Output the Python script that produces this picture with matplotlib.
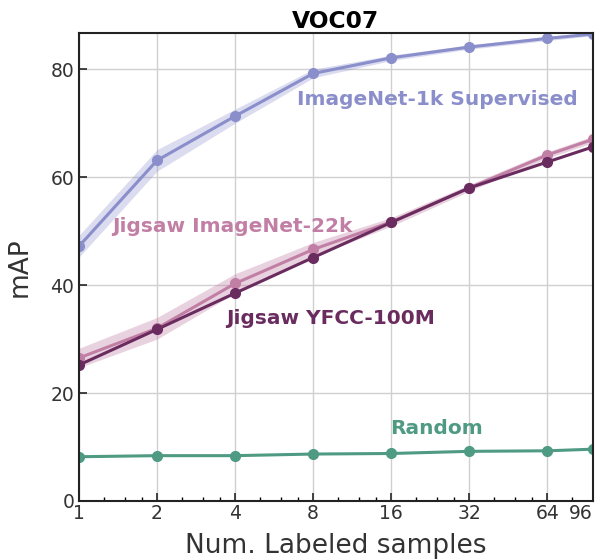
import matplotlib
matplotlib.use("Agg")
import matplotlib.pyplot as plt
from matplotlib.ticker import FixedLocator, NullFormatter, LogLocator

samples = [1, 2, 4, 8, 16, 32, 64, 96]
tick_labels = ["1", "2", "4", "8", "16", "32", "64", "96"]

imnet_sup = [47.2, 63.1, 71.3, 79.2, 82.1, 84.1, 85.7, 86.5]
imnet_sup_err = [2.0, 2.0, 1.3, 0.8, 0.5, 0.4, 0.4, 0.3]
jig_22k = [26.5, 32.0, 40.3, 46.6, 51.7, 58.0, 64.1, 67.0]
jig_22k_err = [1.8, 2.0, 1.8, 1.3, 0.8, 0.6, 0.6, 0.6]
jig_yfcc = [25.2, 31.8, 38.5, 45.1, 51.6, 58.0, 62.8, 65.6]
random_init = [8.2, 8.4, 8.4, 8.7, 8.8, 9.2, 9.3, 9.6]

c_sup = "#8a8ecb"
c_22k = "#c27fa5"
c_yfcc = "#6a2c5f"
c_rand = "#4e9a82"

fig = plt.figure(figsize=(6.02, 5.59), dpi=100)
ax = fig.add_axes([79/602, 1 - 501/559, (593-79)/602, (501-33)/559])

lo = [v - e for v, e in zip(imnet_sup, imnet_sup_err)]
hi = [v + e for v, e in zip(imnet_sup, imnet_sup_err)]
ax.fill_between(samples, lo, hi, color=c_sup, alpha=0.3, lw=0)
lo = [v - e for v, e in zip(jig_22k, jig_22k_err)]
hi = [v + e for v, e in zip(jig_22k, jig_22k_err)]
ax.fill_between(samples, lo, hi, color=c_22k, alpha=0.35, lw=0)

ax.plot(samples, imnet_sup, "-o", color=c_sup, lw=2.2, ms=7)
ax.plot(samples, jig_22k, "-o", color=c_22k, lw=2.2, ms=7)
ax.plot(samples, jig_yfcc, "-o", color=c_yfcc, lw=2.2, ms=7)
ax.plot(samples, random_init, "-o", color=c_rand, lw=2.2, ms=7)

ax.set_xscale("log", base=2)
ax.set_xlim(1, 96)
ax.set_ylim(0, 86.7)
ax.xaxis.set_major_locator(FixedLocator(samples))
ax.set_xticklabels(tick_labels)
ax.xaxis.set_minor_locator(LogLocator(base=2, subs=[1.25, 1.5, 1.75], numticks=20))
ax.xaxis.set_minor_formatter(NullFormatter())
ax.set_yticks([0, 20, 40, 60, 80])
ax.tick_params(axis="both", which="major", direction="in", length=6, width=1.3,
               labelsize=13.5, colors="#333333", labelcolor="#333333")
ax.tick_params(axis="x", which="minor", direction="in", length=3, width=1)
ax.tick_params(axis="x", which="major", pad=2)
ax.grid(True, which="major", color="#d0d0d0", lw=1)
ax.set_axisbelow(True)
for s in ax.spines.values():
    s.set_linewidth(1.5)
    s.set_color("#222222")
ax.get_xticklabels()[-1].set_horizontalalignment("right")
ax.get_xticklabels()[-1].set_x(96)

ax.set_xlabel("Num. Labeled samples", fontsize=19, color="#333333")
ax.xaxis.set_label_coords(0.5, -0.068)
ax.set_ylabel("mAP", fontsize=19, color="#333333")
ax.yaxis.set_label_coords(-0.09, 0.5)
ax.set_title("VOC07", fontsize=16.8, fontweight="bold", pad=2)

ax.text(24.1, 74.3, "ImageNet-1k Supervised", color=c_sup, fontsize=14.5,
        fontweight="bold", ha="center", va="center")
ax.text(3.9, 50.9, "Jigsaw ImageNet-22k", color=c_22k, fontsize=14.5,
        fontweight="bold", ha="center", va="center")
ax.text(9.3, 33.8, "Jigsaw YFCC-100M", color=c_yfcc, fontsize=14.5,
        fontweight="bold", ha="center", va="center")
ax.text(23.9, 13.5, "Random", color=c_rand, fontsize=14.5,
        fontweight="bold", ha="center", va="center")

fig.savefig("out.png", dpi=100)
